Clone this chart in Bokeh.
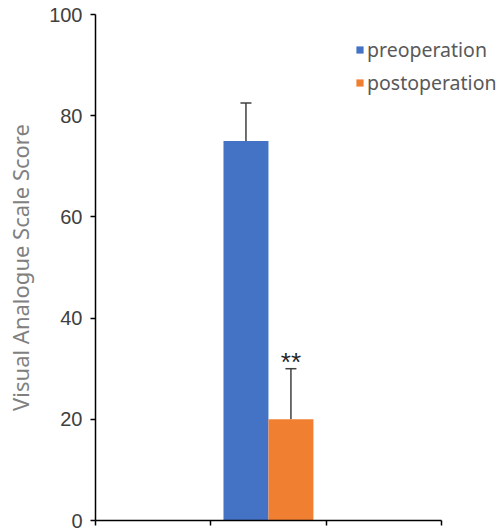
from bokeh.plotting import figure
from bokeh.models import (ColumnDataSource, Range1d, FixedTicker, Whisker, TeeHead,
                          Legend, LegendItem)
from bokeh.core.properties import value
from bokeh.embed import file_html
from bokeh.resources import INLINE

# ---- data ----
series = ["preoperation", "postoperation"]
means = [75, 20]
errors = [7.5, 10]
colors = ["#4472C4", "#F07F32"]
group_index = 1          # middle of three category slots
n_groups = 3
bar_width = 0.39
offsets = [-0.195, 0.195]
sig_labels = ["", "**"]
y_ticks = [0, 20, 40, 60, 80, 100]

xs = [group_index + 0.5 + o for o in offsets]
src = ColumnDataSource(dict(
    x=xs, top=means, upper=[m + e for m, e in zip(means, errors)],
    color=colors, name=series, sig=sig_labels))

p = figure(width=502, height=531, output_backend="svg", toolbar_location=None,
           x_range=Range1d(0, 3.53), y_range=Range1d(0, 100),
           min_border_left=95, min_border_right=0, min_border_top=14,
           min_border_bottom=11)
p.outline_line_color = None
p.grid.visible = False
p.background_fill_color = "white"
p.border_fill_color = "white"

renderers = []
for i in range(len(series)):
    r = p.vbar(x=[xs[i]], top=[means[i]], bottom=0, width=bar_width,
               fill_color=colors[i], line_color=None)
    renderers.append(r)

wh = Whisker(base="x", upper="upper", lower="top", source=src, dimension="height",
             line_color="#404040", line_width=1.5,
             upper_head=TeeHead(size=11, line_color="#404040", line_width=1.5),
             lower_head=None)
p.add_layout(wh)

p.text(x="x", y="upper", text="sig", source=src, text_align="center",
       text_baseline="alphabetic", y_offset=-7, text_font_size="26px",
       text_color="#262626", text_font=value("Liberation Sans"))

# x axis
xa = p.xaxis[0]
xa.ticker = FixedTicker(ticks=list(range(n_groups + 1)))
xa.bounds = (0, n_groups)
xa.major_label_overrides = {i: "" for i in range(n_groups + 1)}
xa.major_label_text_font_size = "1px"
xa.major_label_standoff = 0
xa.major_tick_out = 5
xa.major_tick_in = 0
xa.minor_tick_line_color = None
xa.axis_line_color = "black"
xa.axis_line_width = 1.5
xa.major_tick_line_width = 1.5

# y axis
ya = p.yaxis[0]
ya.ticker = FixedTicker(ticks=y_ticks)
ya.minor_tick_line_color = None
ya.major_tick_out = 5
ya.major_tick_in = 0
ya.axis_line_width = 1.5
ya.major_tick_line_width = 1.5
ya.major_label_text_font = "Liberation Sans"
ya.major_label_text_font_size = "20px"
ya.major_label_text_color = "#404040"
ya.major_label_standoff = 8
ya.axis_label = "Visual Analogue Scale Score"
ya.axis_label_text_font = "Noto Sans"
ya.axis_label_text_font_size = "22px"
ya.axis_label_text_font_style = "normal"
ya.axis_label_text_color = "#808080"
ya.axis_label_standoff = 11

legend = Legend(items=[LegendItem(label=series[i], renderers=[renderers[i]])
                       for i in range(len(series))],
                location=(260, 424), orientation="vertical",
                glyph_width=9, glyph_height=9, label_standoff=3, spacing=6,
                padding=0, margin=0, border_line_color=None,
                background_fill_alpha=0,
                label_text_font="Noto Sans", label_text_font_size="19.5px",
                label_text_color="#595959")
p.add_layout(legend)

open("out.html", "w").write(file_html(p, INLINE))
